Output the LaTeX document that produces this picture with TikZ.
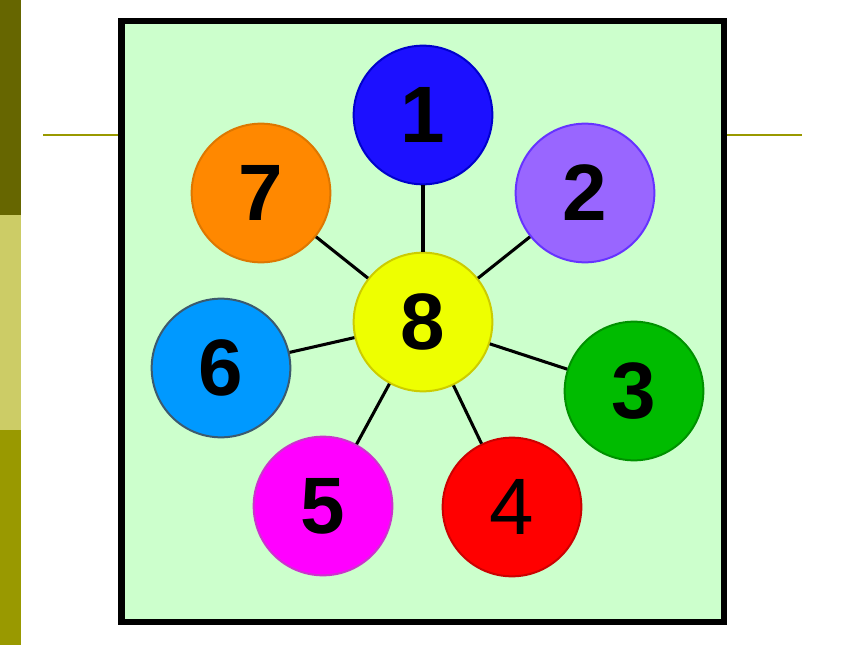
\documentclass[tikz,border=0pt]{standalone}
\usepackage{fontspec}
\setmainfont{Liberation Sans}
\definecolor{olivedark}{HTML}{666600}
\definecolor{olivelight}{HTML}{CCCC66}
\definecolor{olivemid}{HTML}{999900}
\definecolor{boxgreen}{HTML}{CCFFCC}
\begin{document}
\begin{tikzpicture}[x=0.75pt, y=-0.75pt]
      \tikzstyle{ball}=[draw, shape=circle, line width=1.5pt, minimum size=104pt, inner sep=0pt, font=\fontsize{60}{60}\selectfont\bfseries]
      \tikzstyle{spoke}=[line width=2.3pt]
      \tikzstyle{n1}=[fill={rgb,255:red,28;green,16;blue,255}, draw={rgb,255:red,0;green,0;blue,204}]
      \tikzstyle{n2}=[fill={rgb,255:red,153;green,102;blue,255}, draw={rgb,255:red,102;green,51;blue,255}]
      \tikzstyle{n3}=[fill={rgb,255:red,0;green,187;blue,0}, draw={rgb,255:red,0;green,145;blue,0}]
      \tikzstyle{n4}=[fill={rgb,255:red,255;green,0;blue,0}, draw={rgb,255:red,204;green,0;blue,0}, font=\fontsize{60}{60}\selectfont]
      \tikzstyle{n5}=[fill={rgb,255:red,255;green,0;blue,255}, draw={rgb,255:red,204;green,51;blue,204}]
      \tikzstyle{n6}=[fill={rgb,255:red,0;green,153;blue,255}, draw={rgb,255:red,60;green,90;blue,110}]
      \tikzstyle{n7}=[fill={rgb,255:red,255;green,136;blue,0}, draw={rgb,255:red,221;green,119;blue,0}]
      \tikzstyle{n8}=[fill={rgb,255:red,238;green,255;blue,0}, draw={rgb,255:red,204;green,204;blue,0}]
      \useasboundingbox (0,0) rectangle (860,645);
      % slide decoration
      \fill[olivedark] (0,0) rectangle (21,215);
      \fill[olivelight] (0,215) rectangle (21,430);
      \fill[olivemid] (0,430) rectangle (21,645);
      \draw[olivemid, line width=1.5pt] (43,135.5) -- (802,135.5);
      \draw[line width=5.2pt, fill=boxgreen] (121.5,21) rectangle (724,622);
      \node[ball, n1] (c1) at (423, 115) {1};
      \node[ball, n2] (c2) at (585, 193) {2};
      \node[ball, n3] (c3) at (634, 391) {3};
      \node[ball, n4] (c4) at (512, 507) {4};
      \node[ball, n5] (c5) at (323, 506) {5};
      \node[ball, n6] (c6) at (221, 368) {6};
      \node[ball, n7] (c7) at (261, 193) {7};
      \node[ball, n8] (c8) at (423, 322) {8};

      \foreach \dst in {c1, c2, c3, c4, c5, c6, c7} {%
        \draw[spoke] (c8) -- (\dst);
      }
    \end{tikzpicture}
\end{document}
